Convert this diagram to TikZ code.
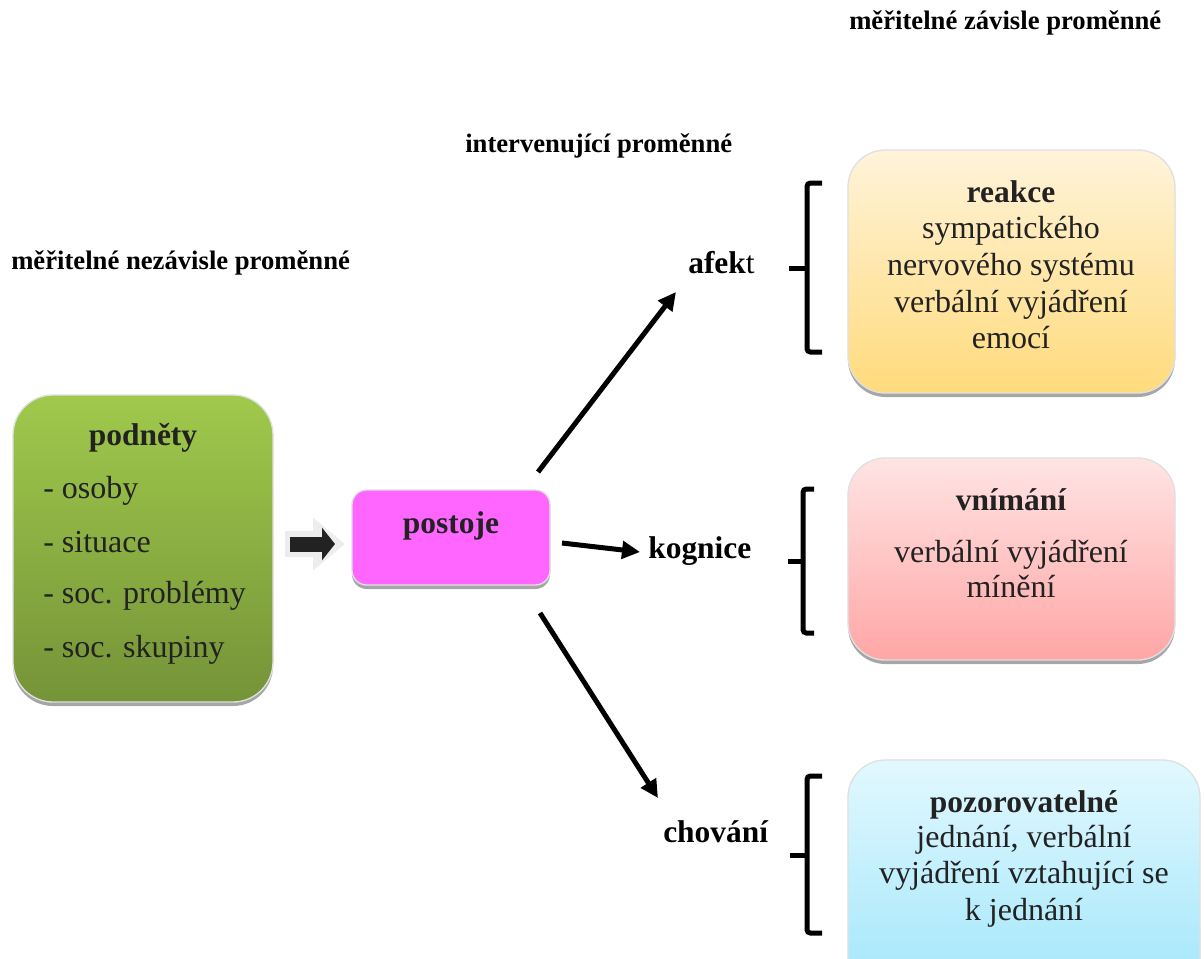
\documentclass[tikz,border=0pt]{standalone}
\usepackage{fontspec}
\setmainfont{Liberation Serif}
\usetikzlibrary{arrows.meta,shadows,fit}

\definecolor{stimTop}{RGB}{160,201,76}
\definecolor{stimBot}{RGB}{117,147,56}
\definecolor{attFill}{RGB}{255,102,255}
\definecolor{affTop}{RGB}{255,243,218}
\definecolor{affBot}{RGB}{255,219,124}
\definecolor{cogTop}{RGB}{255,228,228}
\definecolor{cogBot}{RGB}{255,166,166}
\definecolor{behTop}{RGB}{226,248,254}
\definecolor{behBot}{RGB}{160,230,251}
\definecolor{ink}{RGB}{34,34,34}

\tikzset{
  panel/.style={draw=black!12, line width=1pt, inner sep=0pt, outer sep=0pt,
    drop shadow={shadow xshift=0pt, shadow yshift=-3pt, fill=black, opacity=0.35}},
  heading/.style={font=\fontsize{20}{24}\selectfont\bfseries, inner sep=0pt, anchor=base west},
  stage/.style={font=\fontsize{23.6}{28}\selectfont\bfseries, inner sep=0pt, anchor=base west},
  boxtitle/.style={font=\fontsize{23.6}{28}\selectfont\bfseries, text=ink, inner sep=0pt, anchor=base},
  boxline/.style={font=\fontsize{24}{28}\selectfont, text=ink, inner sep=0pt, anchor=base},
  listline/.style={font=\fontsize{24}{28}\selectfont, text=ink, inner sep=0pt, anchor=base west},
  conn/.style={line width=3.75pt, -{Triangle[length=13.5pt,width=13pt]}},
  brk/.style={line width=3.75pt, rounded corners=2.5pt},
  blockbg/.style={draw=black!7, line width=20pt, -{Triangle[length=24pt,width=38pt]}, color=black!7},
  blockfg/.style={draw=ink, line width=11.25pt, -{Triangle[length=9.75pt,width=24pt]}, color=ink}
}

\begin{document}
\begin{tikzpicture}[x=0.75pt,y=-0.75pt]
\clip (0,0) rectangle (1204,958);
\fill[white] (0,0) rectangle (1204,958);

% column headings
\node[heading] (hdep) at (849,29) {měřitelné závisle proměnné};
\node[heading] (hint) at (465,152) {intervenující proměnné};
\node[heading] (hind) at (11,269) {měřitelné nezávisle proměnné};

% stimuli
\node[panel, fit={(13,395) (273,702)}, rounded corners=30pt,
      top color=stimTop, bottom color=stimBot] (stim) {};
\node[boxtitle] (stimT) at (143,445) {podněty};
\node[listline] (s1) at (43,498) {- osoby};
\node[listline] (s2) at (43,552) {- situace};
\node[listline] (s3) at (43,603) {- soc. problémy};
\node[listline] (s4) at (43,657) {- soc. skupiny};

% attitudes
\node[panel, fit={(352,490) (550,585)}, rounded corners=11pt, fill=attFill] (att) {};
\node[boxtitle] (attT) at (451,533) {postoje};

% block arrow from stimuli to attitudes
\coordinate (lvl) at (0,544);
\draw[blockbg, shorten <=12*0.75pt, shorten >=7*0.75pt] (stim.east |- lvl) -- (att.west |- lvl);
\draw[blockfg, shorten <=17*0.75pt, shorten >=17*0.75pt] (stim.east |- lvl) -- (att.west |- lvl);

% components
\node[stage] (aff) at (688,273) {afek\normalfont t};
\node[stage] (cog) at (648,558) {kognice};
\node[stage] (beh) at (663,842) {chování};

\coordinate (a1s) at (538,472); \coordinate (a1e) at (676,292);
\coordinate (a2s) at (562,543); \coordinate (a2e) at (640,552);
\coordinate (a3s) at (540,613); \coordinate (a3e) at (658,798);
\draw[conn] (a1s) -- (a1e);
\draw[conn] (a2s) -- (a2e);
\draw[conn] (a3s) -- (a3e);

% brackets
\draw[brk] (822,183) -- (807,183) -- (807,352) -- (822,352);
\draw[brk] (789,268) -- (807,268);
\draw[brk] (814,489) -- (803,489) -- (803,633) -- (814,633);
\draw[brk] (788,561) -- (803,561);
\draw[brk] (822,776) -- (807,776) -- (807,933) -- (822,933);
\draw[brk] (790,855) -- (807,855);

% affect measures
\node[panel, fit={(848,150) (1175,393)}, rounded corners=28pt,
      top color=affTop, bottom color=affBot] (affB) {};
\node[boxtitle] (affT) at (1011,202) {reakce};
\node[boxline] (af1) at (1011,238) {sympatického};
\node[boxline] (af2) at (1011,275) {nervového systému};
\node[boxline] (af3) at (1011,312) {verbální vyjádření};
\node[boxline] (af4) at (1011,348) {emocí};

% cognition measures
\node[panel, fit={(848,458) (1175,660)}, rounded corners=28pt,
      top color=cogTop, bottom color=cogBot] (cogB) {};
\node[boxtitle] (cogT) at (1011,510) {vnímání};
\node[boxline] (cg1) at (1011,562) {verbální vyjádření};
\node[boxline] (cg2) at (1011,597) {mínění};

% behaviour measures
\node[panel, fit={(848,760) (1200,1000)}, rounded corners=28pt,
      top color=behTop, bottom color=behBot] (behB) {};
\node[boxtitle] (behT) at (1024,812) {pozorovatelné};
\node[boxline] (bh1) at (1024,847) {jednání, verbální};
\node[boxline] (bh2) at (1024,883) {vyjádření vztahující se};
\node[boxline] (bh3) at (1024,920) {k jednání};
\end{tikzpicture}
\end{document}
